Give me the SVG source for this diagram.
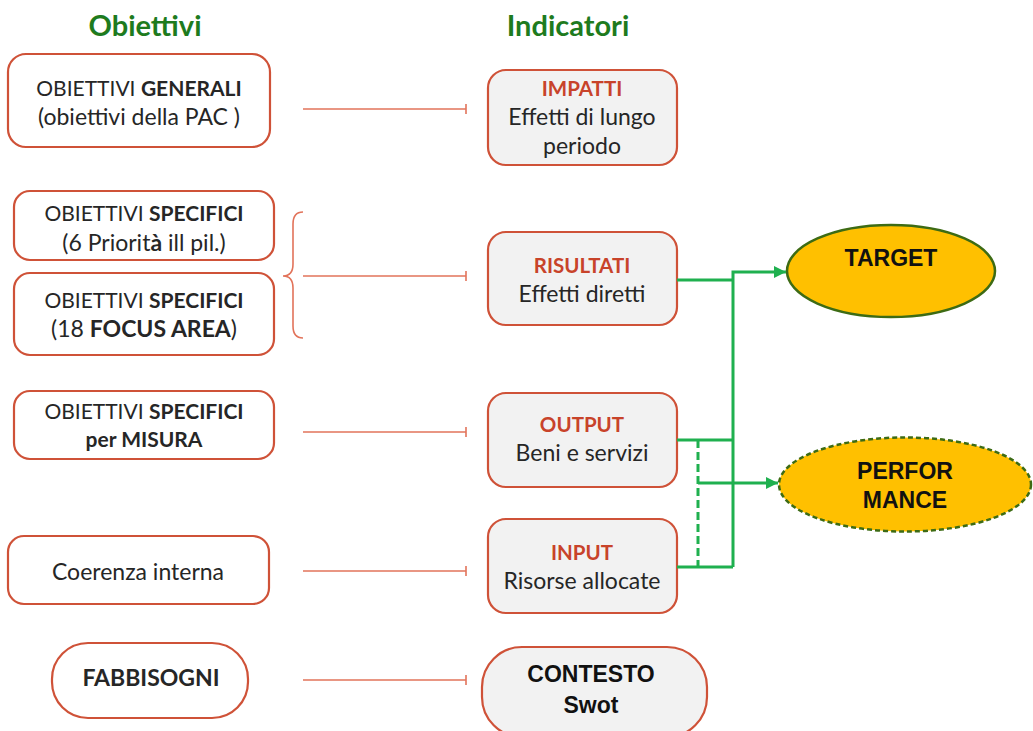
<svg xmlns="http://www.w3.org/2000/svg" width="1033" height="731" viewBox="0 0 1033 731">
<style>
.hdr{font-family:Lato,"Liberation Sans",sans-serif;font-weight:bold;font-size:29px;fill:#1e7b1e;text-anchor:middle}
.t{font-family:Lato,"Liberation Sans",sans-serif;font-size:23px;fill:#262626;text-anchor:middle}
.c{font-size:21px}
.b{font-weight:bold}
.red{font-family:Lato,"Liberation Sans",sans-serif;font-weight:bold;font-size:20.5px;fill:#c8432a;text-anchor:middle}
.ab{font-family:"Liberation Sans",Arial,sans-serif;font-weight:bold;font-size:23px;fill:#111;text-anchor:middle}
.lb{fill:#fff;stroke:#cf5238;stroke-width:2.2}
.rb{fill:#f2f2f2;stroke:#cf5238;stroke-width:2.2}
.rl{fill:none;stroke:#e2735a;stroke-width:1.6}
.gl{fill:none;stroke:#1fb04f;stroke-width:3}
.gd{fill:none;stroke:#1fb04f;stroke-width:3;stroke-dasharray:8 4}
</style>
<defs>
<marker id="tick" markerUnits="userSpaceOnUse" markerWidth="4" markerHeight="12" refX="1" refY="6" orient="auto">
<path d="M1,1 V11" stroke="#e2735a" stroke-width="1.6"/>
</marker>
<marker id="arr" markerUnits="userSpaceOnUse" markerWidth="14" markerHeight="12" refX="12" refY="6" orient="auto">
<path d="M0,0 L12,6 L0,12 z" fill="#1fb04f"/>
</marker>
</defs>
<rect width="1033" height="731" fill="#fff"/>

<text class="hdr" x="145" y="36">Obiettivi</text>
<text class="hdr" x="568" y="36">Indicatori</text>

<g id="ob-generali">
<rect class="lb" x="8" y="54" width="262" height="93" rx="18"/>
<text class="t c" x="139" y="96">OBIETTIVI <tspan class="b">GENERALI</tspan></text>
<text class="t" x="139" y="125" font-size="22.5">(obiettivi della PAC )</text>
</g>
<g id="ob-specifici-1">
<rect class="lb" x="14" y="191" width="260" height="69" rx="16"/>
<text class="t c" x="144" y="221">OBIETTIVI <tspan class="b">SPECIFICI</tspan></text>
<text class="t" x="144" y="251">(6 Priorit<tspan class="b">à</tspan> ill pil.)</text>
</g>
<g id="ob-specifici-2">
<rect class="lb" x="14" y="273" width="260" height="82" rx="16"/>
<text class="t c" x="144" y="308">OBIETTIVI <tspan class="b">SPECIFICI</tspan></text>
<text class="t" x="144" y="337" font-size="21.5">(18 <tspan class="b">FOCUS AREA</tspan>)</text>
</g>
<g id="ob-misura">
<rect class="lb" x="14" y="391" width="260" height="68" rx="16"/>
<text class="t c" x="144" y="419">OBIETTIVI <tspan class="b">SPECIFICI</tspan></text>
<text class="t c b" x="144" y="447">per MISURA</text>
</g>
<g id="coerenza">
<rect class="lb" x="8" y="536" width="261" height="68" rx="16"/>
<text class="t" x="138" y="580">Coerenza interna</text>
</g>
<g id="fabbisogni">
<rect class="lb" x="52" y="643" width="196" height="75" rx="36"/>
<text class="t b" x="151" y="686" font-size="20">FABBISOGNI</text>
</g>

<g id="impatti">
<rect class="rb" x="488" y="70" width="189" height="95" rx="18"/>
<text class="red" x="582" y="96">IMPATTI</text>
<text class="t" x="582" y="125">Effetti di lungo</text>
<text class="t" x="582" y="154">periodo</text>
</g>
<g id="risultati">
<rect class="rb" x="488" y="232" width="189" height="93" rx="18"/>
<text class="red" x="582" y="273">RISULTATI</text>
<text class="t" x="582" y="302">Effetti diretti</text>
</g>
<g id="output">
<rect class="rb" x="488" y="393" width="189" height="94" rx="18"/>
<text class="red" x="582" y="432">OUTPUT</text>
<text class="t" x="582" y="461">Beni e servizi</text>
</g>
<g id="input">
<rect class="rb" x="488" y="519" width="189" height="94" rx="18"/>
<text class="red" x="582" y="560">INPUT</text>
<text class="t" x="582" y="589">Risorse allocate</text>
</g>
<g id="contesto">
<rect class="rb" x="482" y="647" width="225" height="90" rx="40"/>
<text class="ab" x="591" y="682" font-size="23.5">CONTESTO</text>
<text class="ab" x="591" y="713" font-size="23.5">Swot</text>
</g>

<g id="target">
<ellipse cx="891" cy="271" rx="104" ry="46" fill="#ffc000" stroke="#3d6b14" stroke-width="2.5"/>
<text class="ab" x="891" y="266" font-size="24">TARGET</text>
</g>
<g id="performance">
<ellipse cx="905" cy="484.5" rx="126" ry="47" fill="#ffc000" stroke="#3d6b14" stroke-width="2.5" stroke-dasharray="5 3"/>
<text class="ab" x="905" y="479" font-size="24">PERFOR</text>
<text class="ab" x="905" y="508" font-size="24">MANCE</text>
</g>

<g id="connectors">
<path class="rl" d="M303,109 H466" marker-end="url(#tick)"/>
<path class="rl" d="M303,276 H466" marker-end="url(#tick)"/>
<path class="rl" d="M303,432 H466" marker-end="url(#tick)"/>
<path class="rl" d="M303,571 H466" marker-end="url(#tick)"/>
<path class="rl" d="M303,680 H466" marker-end="url(#tick)"/>
<path class="rl" d="M303,212 Q293,212 293,224 V264 Q293,276 283,276 Q293,276 293,288 V326 Q293,338 303,338"/>
<path class="gl" d="M677,280 H733"/>
<path class="gl" d="M677,440 H733"/>
<path class="gl" d="M677,567 H733"/>
<path class="gl" d="M733,567 V272 H786" marker-end="url(#arr)"/>
<path class="gd" d="M698,440 V567"/>
<path class="gl" d="M698,483 H778" marker-end="url(#arr)"/>
</g>
</svg>
